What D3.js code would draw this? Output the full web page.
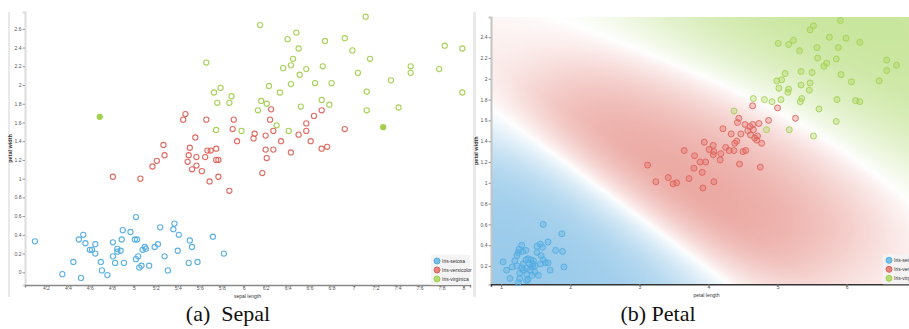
<!DOCTYPE html>
<html>
<head>
<meta charset="utf-8">
<script src="https://cdn.jsdelivr.net/npm/d3@7"></script>
<style>
  body { margin: 0; background: #fff; }
  text { font-family: "Liberation Sans", Arial, sans-serif; }
</style>
</head>
<body>
<svg id="chart" width="909" height="329"></svg>
<script>
// class names + colours
const species = ["Iris-setosa", "Iris-versicolor", "Iris-virginica"];
const colors = ["#52ade0", "#df6259", "#a2d04c"];
const heatColors = [[110, 180, 225], [222, 108, 98], [168, 214, 98]];

// (a) sepal length vs petal width
const sepalSetosa = [
  [4.10,0.33],[4.35,-0.02],[4.45,0.11],[4.50,0.35],[4.52,-0.06],[4.54,0.40],[4.56,0.31],[4.60,0.24],
  [4.62,0.24],[4.65,0.30],[4.65,0.20],[4.70,0.11],[4.71,0.02],[4.76,-0.03],[4.81,0.17],[4.81,0.32],
  [4.83,0.10],[4.85,0.25],[4.85,0.22],[4.88,0.23],[4.89,0.35],[4.90,0.45],[4.91,0.10],[4.97,0.43],
  [5.01,0.35],[5.02,0.59],[5.03,0.35],[5.02,0.14],[5.04,0.17],[5.05,0.05],[5.07,0.07],[5.08,0.24],
  [5.10,0.27],[5.11,0.25],[5.14,0.07],[5.19,0.27],[5.22,0.30],[5.24,0.48],[5.28,0.17],[5.31,0.02],
  [5.36,0.46],[5.37,0.52],[5.41,0.40],[5.40,0.23],[5.50,0.10],[5.51,0.34],[5.53,0.27],[5.58,0.11],
  [5.72,0.38],[5.82,0.20]
];
const sepalVersicolor = [
  [4.81,1.02],[5.06,1.00],[5.17,1.13],[5.21,1.19],[5.28,1.25],[5.49,1.18],[5.50,1.25],[5.53,1.10],
  [5.57,1.14],[5.57,1.23],[5.62,1.08],[5.65,1.23],[5.69,0.97],[5.75,1.20],[5.77,1.20],[5.77,1.02],
  [5.87,0.87],[5.47,1.69],[5.45,1.63],[5.66,1.63],[5.91,1.63],[5.90,1.53],[5.56,1.44],[5.27,1.36],
  [5.51,1.33],[5.67,1.30],[5.70,1.30],[5.75,1.32],[5.94,1.40],[6.10,1.48],[6.09,1.43],[6.20,1.46],
  [6.27,1.51],[6.24,1.63],[6.25,1.74],[6.34,1.40],[6.20,1.31],[6.27,1.31],[6.21,1.22],[6.17,1.06],
  [6.43,1.28],[6.50,1.47],[6.57,1.59],[6.57,1.51],[6.64,1.67],[6.71,1.73],[6.61,1.40],[6.71,1.32],
  [6.76,1.34],[6.92,1.53]
];
const sepalVirginica = [
  [5.73,1.92],[5.79,1.97],[5.89,1.88],[5.76,1.81],[5.87,1.81],[5.75,1.52],[5.98,1.51],[6.16,1.83],
  [6.21,1.80],[6.23,1.99],[6.13,1.73],[6.33,1.92],[6.43,2.01],[6.51,2.11],[6.36,2.18],[6.65,2.02],
  [6.30,1.57],[6.41,1.51],[6.52,1.77],[6.71,1.84],[6.78,1.79],[6.80,2.02],[6.15,2.64],[6.48,2.56],
  [6.40,2.49],[6.74,2.47],[6.50,2.39],[6.92,2.50],[7.11,2.73],[6.99,2.37],[6.45,2.28],[6.43,2.21],
  [6.57,2.17],[6.72,2.20],[7.15,2.28],[7.04,2.13],[7.12,1.93],[7.12,1.73],[7.34,2.05],[7.52,2.20],
  [7.52,2.13],[7.78,2.17],[7.83,2.42],[7.99,2.39],[7.99,1.92],[7.41,1.76],[7.27,1.55],[5.66,2.24],
  [4.69,1.66]
];
const sepalSolid = [46, 48]; // virginica points drawn filled

// (b) petal length vs petal width
const petalSetosa = [
  [1.61,0.60],[1.88,0.51],[1.30,0.40],[1.52,0.39],[1.57,0.41],[1.60,0.38],[1.68,0.43],[1.36,0.35],
  [1.31,0.34],[1.25,0.33],[1.23,0.30],[1.79,0.35],[1.89,0.34],[1.03,0.24],[1.20,0.25],[1.36,0.26],
  [1.39,0.27],[1.43,0.26],[1.47,0.25],[1.61,0.26],[1.64,0.23],[1.68,0.23],[1.57,0.22],[1.32,0.22],
  [1.41,0.22],[1.46,0.22],[1.91,0.19],[1.08,0.16],[1.16,0.19],[1.23,0.20],[1.30,0.18],[1.37,0.18],
  [1.45,0.19],[1.49,0.20],[1.71,0.16],[1.32,0.16],[1.42,0.16],[1.49,0.14],[1.27,0.13],[1.37,0.12],
  [1.45,0.11],[1.54,0.11],[1.27,0.08],[1.39,0.07],[1.37,0.06],[1.13,0.08],[1.25,0.04],[1.58,0.30],
  [1.26,0.36],[1.52,0.33]
];
const petalVersicolor = [
  [3.12,1.17],[3.24,1.01],[3.42,1.05],[3.49,0.99],[3.54,1.00],[3.65,1.31],[3.72,1.04],[3.80,1.26],
  [3.79,1.14],[3.88,1.20],[3.96,1.20],[3.91,1.10],[3.92,0.95],[3.94,1.39],[4.01,1.32],[4.07,1.36],
  [4.08,1.30],[4.07,1.27],[4.18,1.28],[4.17,1.22],[4.08,1.01],[4.21,1.52],[4.30,1.31],[4.33,1.47],
  [4.37,1.31],[4.38,1.38],[4.41,1.40],[4.47,1.47],[4.45,1.18],[4.42,1.58],[4.44,1.62],[4.50,1.30],
  [4.54,1.31],[4.53,1.56],[4.57,1.50],[4.60,1.54],[4.64,1.56],[4.65,1.51],[4.61,1.46],[4.67,1.43],
  [4.71,1.45],[4.70,1.41],[4.73,1.57],[4.77,1.38],[4.75,1.15],[4.87,1.60],[4.64,1.74],[5.00,1.72],
  [5.26,1.62],[4.25,1.34]
];
const petalVirginica = [
  [5.91,2.56],[5.52,2.51],[5.47,2.47],[5.75,2.40],[5.99,2.39],[6.19,2.35],[5.01,2.34],[5.16,2.33],
  [5.23,2.37],[5.32,2.27],[5.57,2.30],[5.88,2.30],[5.58,2.20],[5.85,2.19],[5.71,2.15],[5.67,2.12],
  [6.58,2.18],[6.72,2.13],[6.58,2.08],[5.34,2.07],[5.50,2.06],[5.92,2.04],[5.11,2.05],[5.06,1.99],
  [4.99,1.98],[5.34,1.94],[5.47,1.96],[5.46,1.89],[5.02,1.91],[5.16,1.90],[5.15,1.87],[6.07,1.97],
  [6.47,1.98],[5.35,1.81],[5.33,1.78],[5.86,1.80],[6.13,1.79],[6.19,1.78],[4.65,1.81],[4.81,1.80],
  [4.92,1.78],[5.05,1.80],[4.37,1.69],[5.60,1.71],[5.17,1.51],[5.85,1.59],[5.52,1.45],[4.84,1.51]
];

// tick labels
const sepalXTicks = [4.2,4.4,4.6,4.8,5,5.2,5.4,5.6,5.8,6,6.2,6.4,6.6,6.8,7,7.2,7.4,7.6,7.8,8];
const sepalYTicks = [0,0.2,0.4,0.6,0.8,1,1.2,1.4,1.6,1.8,2,2.2,2.4,2.6];
const petalXTicks = [1,2,3,4,5,6];
const petalYTicks = [0.2,0.4,0.6,0.8,1,1.2,1.4,1.6,1.8,2,2.2,2.4];

const svg = d3.select("#chart");

// card edges
[[8, 2], [473, 3]].forEach(function(e) {
  svg.append("rect").attr("x", e[0]).attr("y", 12).attr("width", e[1]).attr("height", 285)
    .attr("fill", "#e9e9e9");
});

function drawPanel(o) {
  const g = svg.append("g");
  const x = d3.scaleLinear().domain(o.xDomain).range(o.xRange);
  const y = d3.scaleLinear().domain(o.yDomain).range(o.yRange);

  if (o.heat) drawHeat(g, x, y, o.sets);

  // axes
  const ya = g.append("g").attr("transform", "translate(" + o.xRange[0] + ",0)")
    .call(d3.axisLeft(y).tickValues(o.yTicks).tickSize(2.5).tickFormat(d3.format("~g")));
  const xa = g.append("g").attr("transform", "translate(0," + o.yRange[0] + ")")
    .call(d3.axisBottom(x).tickValues(o.xTicks).tickSize(2.5).tickFormat(d3.format("~g")));
  ya.select(".domain").attr("stroke", o.yAxisColor).attr("stroke-width", 2);
  xa.select(".domain").attr("stroke", o.xAxisColor).attr("stroke-width", 1.5);
  [xa, ya].forEach(function(a) {
    a.selectAll(".tick line").attr("stroke", "#999");
    a.selectAll(".tick text").attr("fill", "#555").style("font-size", "5px");
  });
  ya.selectAll(".tick text").attr("x", -3.5);
  xa.selectAll(".tick text").attr("y", 1.5);

  // axis titles
  g.append("text").attr("x", (o.xRange[0] + o.xRange[1]) / 2).attr("y", o.yRange[0] + 13)
    .attr("text-anchor", "middle").style("font-size", "5px").attr("fill", "#333").text(o.xLabel);
  g.append("text").attr("transform", "translate(" + (o.xRange[0] - 13) + "," +
      ((o.yRange[0] + o.yRange[1]) / 2) + ") rotate(-90)")
    .attr("text-anchor", "middle").style("font-size", "5.5px").style("font-weight", "bold")
    .attr("fill", "#333").text(o.yLabel);

  // points
  o.sets.forEach(function(pts, k) {
    g.append("g").selectAll("circle").data(pts).enter().append("circle")
      .attr("cx", function(d) { return x(d[0]); })
      .attr("cy", function(d) { return y(d[1]); })
      .attr("r", o.r)
      .attr("fill", function(d, i) {
        if (k === 2 && o.solid && o.solid.indexOf(i) >= 0) return colors[k];
        return o.fillOpacity ? colors[k] : "none";
      })
      .attr("fill-opacity", function(d, i) {
        if (k === 2 && o.solid && o.solid.indexOf(i) >= 0) return 1;
        return o.fillOpacity || 0;
      })
      .attr("stroke", colors[k])
      .attr("stroke-opacity", o.strokeOpacity)
      .attr("stroke-width", o.sw);
  });

  // legend
  const lx = o.xRange[1] - 39, ly = o.yRange[0] - 30;
  const lg = g.append("g").attr("transform", "translate(" + lx + "," + ly + ")");
  lg.append("rect").attr("width", 39).attr("height", 30).attr("fill", "#f3f3f3").attr("opacity", 0.9);
  species.forEach(function(s, k) {
    lg.append("circle").attr("cx", 6).attr("cy", 6 + k * 9).attr("r", 3)
      .attr("fill", colors[k]).attr("fill-opacity", 0.75).attr("stroke", colors[k]);
    lg.append("text").attr("x", 11).attr("y", 8 + k * 9).style("font-size", "5px")
      .attr("fill", "#333").text(s);
  });

  // caption
  svg.append("text").attr("x", o.capX).attr("y", 321).attr("text-anchor", "middle")
    .style("font-family", "'Liberation Serif', 'Times New Roman', serif")
    .style("font-size", "22px").style("white-space", "pre").attr("fill", "#111")
    .text(o.caption);
}

// decision regions from a kernel classifier on standardised petal data,
// faded out near class boundaries and far away from the data
function drawHeat(g, x, y, sets) {
  const step = 2;
  const x0 = x.range()[0], x1 = x.range()[1], y0 = y.range()[1], y1 = y.range()[0];
  const gw = Math.ceil((x1 - x0) / step), gh = Math.ceil((y1 - y0) / step);
  const all = [].concat.apply([], sets);
  const mx = d3.mean(all, function(d) { return d[0]; }), sx = d3.deviation(all, function(d) { return d[0]; });
  const my = d3.mean(all, function(d) { return d[1]; }), sy = d3.deviation(all, function(d) { return d[1]; });
  const zs = sets.map(function(pts) {
    return pts.map(function(d) { return [(d[0] - mx) / sx, (d[1] - my) / sy]; });
  });
  const h2 = 2 * 0.6 * 0.6, w2 = 2 * 0.75 * 0.75;

  const canvas = document.createElement("canvas");
  canvas.width = gw; canvas.height = gh;
  const ctx = canvas.getContext("2d");
  const img = ctx.createImageData(gw, gh);
  for (let j = 0; j < gh; j++) {
    const zy = (y.invert(y0 + (j + 0.5) * step) - my) / sy;
    for (let i = 0; i < gw; i++) {
      const zx = (x.invert(x0 + (i + 0.5) * step) - mx) / sx;
      const s = [0, 0, 0], dens = [0, 0, 0];
      zs.forEach(function(pts, k) {
        for (let n = 0; n < pts.length; n++) {
          const dx = zx - pts[n][0], dy = zy - pts[n][1], d2 = dx * dx + dy * dy;
          s[k] += Math.exp(-d2 / h2);
          dens[k] += Math.exp(-d2 / w2);
        }
        s[k] = s[k] / pts.length + 1e-9;
        dens[k] /= pts.length;
      });
      const sum = s[0] + s[1] + s[2];
      const p = s.map(function(v) { return v / sum; });
      const order = [0, 1, 2].sort(function(a, b) { return p[b] - p[a]; });
      const D = Math.max(dens[0], dens[1], dens[2]);
      const conf = 0.17 + 0.83 * Math.pow(D / (D + 0.05), 1.8);
      const a = 0.75 * Math.pow(p[order[0]] - p[order[1]], 0.8) * conf;
      const c = heatColors[order[0]];
      const idx = (j * gw + i) * 4;
      img.data[idx] = 255 + (c[0] - 255) * a;
      img.data[idx + 1] = 255 + (c[1] - 255) * a;
      img.data[idx + 2] = 255 + (c[2] - 255) * a;
      img.data[idx + 3] = 255;
    }
  }
  ctx.putImageData(img, 0, 0);
  g.append("image").attr("x", x0).attr("y", y0).attr("width", gw * step).attr("height", gh * step)
    .attr("preserveAspectRatio", "none").attr("href", canvas.toDataURL());
}

drawPanel({
  sets: [sepalSetosa, sepalVersicolor, sepalVirginica], solid: sepalSolid,
  xDomain: [4.01, 8.06], xRange: [25, 470], yDomain: [-0.136, 2.78], yRange: [285, 12],
  xTicks: sepalXTicks, yTicks: sepalYTicks, xLabel: "sepal length", yLabel: "petal width",
  yAxisColor: "#dcdcdc", xAxisColor: "#888", r: 2.6, sw: 1.1, strokeOpacity: 0.95,
  caption: "(a)  Sepal", capX: 228
});
drawPanel({
  sets: [petalSetosa, petalVersicolor, petalVirginica], heat: true,
  xDomain: [0.855, 7.09], xRange: [491, 922], yDomain: [0.024, 2.594], yRange: [284.3, 17],
  xTicks: petalXTicks, yTicks: petalYTicks, xLabel: "petal length", yLabel: "petal width",
  yAxisColor: "#c4c4c4", xAxisColor: "#333", r: 3, sw: 1, strokeOpacity: 0.85, fillOpacity: 0.3,
  caption: "(b) Petal", capX: 658
});
</script>
</body>
</html>
